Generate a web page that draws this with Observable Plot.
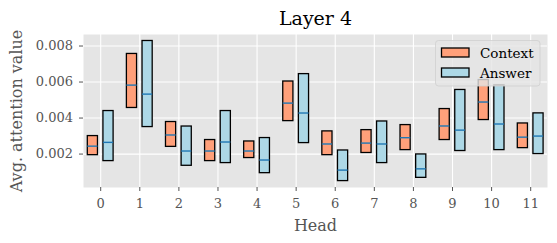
<!DOCTYPE html>
<html>
<head>
<meta charset="utf-8">
<script src="https://cdn.jsdelivr.net/npm/d3@7"></script>
<script src="https://cdn.jsdelivr.net/npm/@observablehq/plot@0.6"></script>
<style>
  html, body { margin: 0; padding: 0; background: #fff; }
  #chart svg { display: block; }
</style>
</head>
<body>
<div id="chart"></div>
<script>
const heads = [0, 1, 2, 3, 4, 5, 6, 7, 8, 9, 10, 11];
const seriesNames = ["Context", "Answer"];
const seriesColors = ["#FFA07A", "#ADD8E6"];
const seriesOffsets = [-0.2, 0.2];

const contextLow  = [0.00194, 0.00456, 0.00240, 0.00161, 0.00178, 0.00383, 0.00194, 0.00206, 0.00222, 0.00278, 0.00389, 0.00233];
const contextMed  = [0.00244, 0.00583, 0.00306, 0.00217, 0.00217, 0.00483, 0.00256, 0.00261, 0.00291, 0.00356, 0.00489, 0.00294];
const contextHigh = [0.00300, 0.00756, 0.00378, 0.00278, 0.00270, 0.00603, 0.00326, 0.00333, 0.00361, 0.00450, 0.00611, 0.00370];

const answerLow  = [0.00161, 0.00350, 0.00135, 0.00150, 0.00094, 0.00261, 0.00050, 0.00150, 0.00068, 0.00217, 0.00222, 0.00200];
const answerMed  = [0.00265, 0.00533, 0.00217, 0.00267, 0.00167, 0.00428, 0.00111, 0.00256, 0.00118, 0.00333, 0.00367, 0.00300];
const answerHigh = [0.00439, 0.00828, 0.00353, 0.00439, 0.00289, 0.00644, 0.00220, 0.00381, 0.00198, 0.00556, 0.00581, 0.00426];

const yTicks = [0.002, 0.004, 0.006, 0.008];
const titleText = "Layer 4";
const xLabel = "Head";
const yLabel = "Avg. attention value";

const boxWidth = 0.26;
const lows = [contextLow, answerLow], meds = [contextMed, answerMed], highs = [contextHigh, answerHigh];
const rows = [];
seriesNames.forEach((s, si) => {
  heads.forEach((h, i) => {
    rows.push({
      series: s, head: h,
      x1: h + seriesOffsets[si] - boxWidth / 2,
      x2: h + seriesOffsets[si] + boxWidth / 2,
      low: lows[si][i], med: meds[si][i], high: highs[si][i]
    });
  });
});

const font = "DejaVu Serif";
const W = 557, H = 243;

const chart = Plot.plot({
  width: W, height: H,
  marginLeft: 83, marginRight: 10, marginTop: 34, marginBottom: 56,
  style: { fontFamily: font, background: "#fff" },
  x: { domain: [-0.44, 11.43], ticks: heads, tickFormat: d3.format("d") },
  y: { domain: [0.000144, 0.00864], ticks: yTicks, tickFormat: d3.format(".3f") },
  color: { domain: seriesNames, range: seriesColors },
  marks: [
    Plot.frame({ fill: "#E5E5E5", stroke: null }),
    Plot.gridX(heads, { stroke: "#fff", strokeOpacity: 1, strokeWidth: 1.1 }),
    Plot.gridY(yTicks, { stroke: "#fff", strokeOpacity: 1, strokeWidth: 1.1 }),
    Plot.axisX(heads, { tickSize: 4, tickPadding: 7, fontSize: 13, color: "#555", label: null, tickFormat: d3.format("d") }),
    Plot.axisY(yTicks, { tickSize: 4, tickPadding: 6.5, fontSize: 13, color: "#555", label: null, tickFormat: d3.format(".3f") }),
    Plot.rect(rows, { x1: "x1", x2: "x2", y1: "low", y2: "high", fill: "series", stroke: "#000", strokeWidth: 1.3 }),
    Plot.ruleY(rows, { y: "med", x1: "x1", x2: "x2", stroke: "#1f77b4", strokeWidth: 1.4 }),
    Plot.text([titleText], { frameAnchor: "top", dy: -10, lineAnchor: "bottom", fontSize: 19, fill: "#000", text: d => d }),
    Plot.text([xLabel], { frameAnchor: "bottom", dy: 43, lineAnchor: "bottom", fontSize: 16, fill: "#555", text: d => d }),
    Plot.text([yLabel], { frameAnchor: "left", dx: -67, rotate: -90, textAnchor: "middle", lineAnchor: "middle", fontSize: 16, fill: "#555", text: d => d })
  ]
});

// legend drawn on top of the plot area
const svg = d3.select(chart);
const lg = svg.append("g").attr("font-family", font).attr("text-anchor", "start");
lg.append("rect").attr("x", 435.5).attr("y", 40.5).attr("width", 104.5).attr("height", 45.5)
  .attr("rx", 3).attr("fill", "#E5E5E5").attr("fill-opacity", 0.8).attr("stroke", "#cfcfcf").attr("stroke-opacity", 0.8);
seriesNames.forEach((s, i) => {
  const y0 = 48 + i * 20;
  lg.append("rect").attr("x", 441.5).attr("y", y0).attr("width", 27.5).attr("height", 9)
    .attr("fill", seriesColors[i]).attr("stroke", "#000").attr("stroke-width", 1.3);
  lg.append("text").attr("x", 480).attr("y", y0 + 9.5)
    .style("font-size", "13.5px").style("text-anchor", "start").attr("fill", "#000").text(s);
});

document.getElementById("chart").appendChild(chart);
</script>
</body>
</html>
